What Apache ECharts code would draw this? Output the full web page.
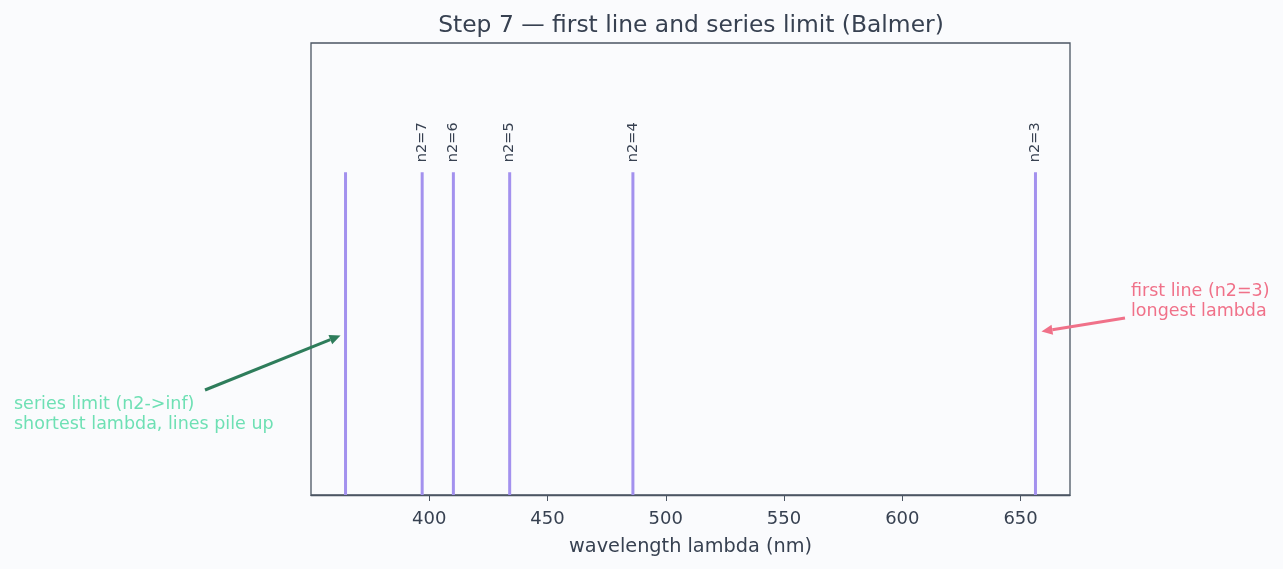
<!DOCTYPE html>
<html>
<head>
<meta charset="utf-8">
<script src="https://cdn.jsdelivr.net/npm/echarts@6/dist/echarts.min.js"></script>
<style>
  html, body { margin: 0; padding: 0; background: #fafbfd; }
  #chart { width: 1283px; height: 569px; }
</style>
</head>
<body>
<div id="chart"></div>
<script>
// Balmer lines, wavelength in nm
const lineNames = ['limit', 'n2=7', 'n2=6', 'n2=5', 'n2=4', 'n2=3'];
const wavelengths = [364.6, 397.0, 410.2, 434.0, 486.1, 656.3];
const lineHeights = [1, 1, 1, 1, 1, 1];
const tickValues = [400, 450, 500, 550, 600, 650];

const textColor = '#374151';
const spineColor = '#4b5563';
const lineColor = '#a391ee';

const chart = echarts.init(document.getElementById('chart'));

const option = {
    backgroundColor: '#fafbfd',
    animation: false,
    title: {
        text: 'Step 7 \u2014 first line and series limit (Balmer)',
        left: 686,
        textAlign: 'center',
        top: 9,
        textStyle: { fontFamily: 'DejaVu Sans', fontSize: 23.4, fontWeight: 'normal', color: textColor }
    },
    grid: { left: 311, right: 213, top: 43, bottom: 74, show: true, borderColor: spineColor, borderWidth: 1.3, backgroundColor: 'transparent' },
    xAxis: {
        type: 'value',
        min: 350,
        max: 670.9,
        interval: 50,
        name: 'wavelength lambda (nm)',
        nameLocation: 'middle',
        nameGap: 42,
        nameTextStyle: { fontFamily: 'DejaVu Sans', fontSize: 19.3, color: textColor },
        splitLine: { show: false },
        axisLine: { show: true, lineStyle: { color: spineColor, width: 1.3 } },
        axisTick: { show: true, length: 6, customValues: tickValues, lineStyle: { color: spineColor } },
        axisLabel: { customValues: tickValues, margin: 15, fontFamily: 'DejaVu Sans', fontSize: 18, color: textColor }
    },
    yAxis: {
        type: 'value',
        min: 0,
        max: 1.4,
        show: false
    },
    series: [{
        type: 'custom',
        data: wavelengths.map((w, i) => [w, lineHeights[i], lineNames[i]]),
        renderItem: function (params, api) {
            const p0 = api.coord([api.value(0), 0]);
            const p1 = api.coord([api.value(0), api.value(1)]);
            const name = lineNames[params.dataIndex];
            const children = [{
                type: 'line',
                shape: { x1: p0[0], y1: p0[1], x2: p1[0], y2: p1[1] },
                style: { stroke: lineColor, lineWidth: 3 }
            }];
            if (name !== 'limit') {
                children.push({
                    type: 'text',
                    x: p1[0],
                    y: p1[1] - 10,
                    rotation: Math.PI / 2,
                    style: {
                        text: name,
                        align: 'left',
                        verticalAlign: 'middle',
                        fontFamily: 'DejaVu Sans',
                        fontSize: 14.5,
                        fill: textColor
                    }
                });
            }
            return { type: 'group', children: children };
        }
    }]
};

chart.setOption(option);

// annotations: arrows pointing at the limit and at the first line
function arrow(from, to, color) {
    const dx = to[0] - from[0], dy = to[1] - from[1];
    const len = Math.sqrt(dx * dx + dy * dy);
    const ux = dx / len, uy = dy / len;
    const hl = 11, hw = 5;
    const bx = to[0] - ux * hl, by = to[1] - uy * hl;
    return [{
        type: 'line',
        shape: { x1: from[0], y1: from[1], x2: bx, y2: by },
        style: { stroke: color, lineWidth: 3 }
    }, {
        type: 'polygon',
        shape: { points: [to, [bx - uy * hw, by + ux * hw], [bx + uy * hw, by - ux * hw]] },
        style: { fill: color }
    }];
}

const limitPt = chart.convertToPixel({ gridIndex: 0 }, [wavelengths[0], 0.5]);
const firstPt = chart.convertToPixel({ gridIndex: 0 }, [wavelengths[5], 0.5]);

const greenArrow = '#2e7d5b';
const greenText = '#6ee0b4';
const pink = '#f07189';

chart.setOption({
    graphic: [
        ...arrow([205, 390], [limitPt[0] - 5, limitPt[1] + 2], greenArrow),
        ...arrow([1125, 318], [firstPt[0] + 6, firstPt[1] - 2], pink),
        {
            type: 'text', left: 14, top: 394,
            style: { text: 'series limit (n2->inf)\nshortest lambda, lines pile up', fontFamily: 'DejaVu Sans', fontSize: 17.5, lineHeight: 20.5, fill: greenText }
        },
        {
            type: 'text', left: 1131, top: 281,
            style: { text: 'first line (n2=3)\nlongest lambda', fontFamily: 'DejaVu Sans', fontSize: 17.5, lineHeight: 20.5, fill: pink }
        }
    ]
});
</script>
</body>
</html>
